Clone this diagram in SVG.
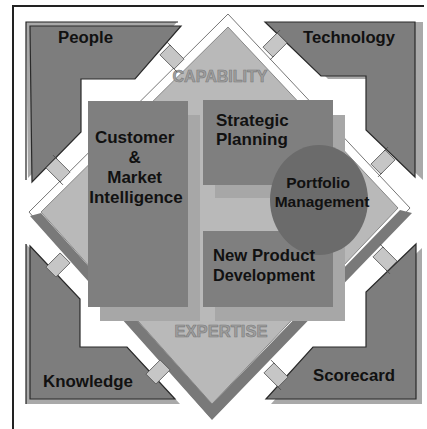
<svg xmlns="http://www.w3.org/2000/svg" width="427" height="429" viewBox="0 0 427 429">
<style>
.lbl{font-family:"Liberation Sans",Arial,sans-serif;font-weight:bold;fill:#111}
.corner{fill:#7d7d7d;stroke:#2a2a2a;stroke-width:1.2}
.cornerbk{fill:#a9a9a9}
.box{fill:#7f7f7f}
.shadow{fill:#a7a7a7}
.plug{fill:#c6c6c6;stroke:#555;stroke-width:0.8}
.emb{font-family:"Liberation Sans",Arial,sans-serif;font-weight:bold;fill:#a0a0a0;stroke:#7a7a7a;stroke-width:0.6}
</style>
<rect width="427" height="429" fill="#ffffff"/>
<!-- frame -->
<path d="M13 429 V6 H424" fill="none" stroke="#222" stroke-width="2"/>

<!-- diamond -->
<g id="diamond">
<polygon points="228,14 410,208 212,419 29,212" fill="#ffffff" stroke="#777" stroke-width="1"/>
<polygon points="228,27 398,208 212,404 41,212" fill="#b9b9b9" stroke="#888" stroke-width="1"/>
<polygon points="30,216 212,420 412,213 400,210 212,404 41,213" fill="#797979"/>
<text class="emb" x="220" y="82" font-size="16" text-anchor="middle" textLength="95" lengthAdjust="spacingAndGlyphs">CAPABILITY</text>
<text class="emb" x="221" y="337" font-size="16" text-anchor="middle" textLength="93" lengthAdjust="spacingAndGlyphs">EXPERTISE</text>
</g>

<!-- corner nodes -->
<g id="people">
<polygon class="cornerbk" points="26,22 177,22 131,75 77,75 77,128 28,178"/>
<polygon class="corner" points="31,27 182,27 136,80 82,80 82,133 33,183" transform="translate(-1,-1)"/>
<path d="M26 180 V22 H178" fill="none" stroke="#222" stroke-width="1.2"/>
<text class="lbl" x="58" y="43" font-size="16" textLength="55" lengthAdjust="spacingAndGlyphs">People</text>
</g>
<g id="technology">
<polygon class="cornerbk" points="272,22 423,22 423,180 373,133 373,79 328,79"/>
<polygon class="corner" points="265,22 415,22 415,177 366,130 366,76 321,76"/>
<text class="lbl" x="303" y="43" font-size="16" textLength="92" lengthAdjust="spacingAndGlyphs">Technology</text>
</g>
<g id="knowledge">
<polygon class="cornerbk" points="26,244 78,299 78,347 127,347 180,404 26,404"/>
<polygon class="corner" points="30,246 80,299 80,347 127,347 175,399 30,399"/>
<path d="M26 244 V404" fill="none" stroke="#222" stroke-width="1.2"/>
<text class="lbl" x="43" y="387" font-size="16" textLength="90" lengthAdjust="spacingAndGlyphs">Knowledge</text>
</g>
<g id="scorecard">
<polygon class="cornerbk" points="422,248 422,404 271,404 318,351 371,351 371,297"/>
<polygon class="corner" points="416,244 416,399 266,399 313,347 366,347 366,292"/>
<text class="lbl" x="313" y="381" font-size="16" textLength="82" lengthAdjust="spacingAndGlyphs">Scorecard</text>
</g>

<!-- connectors (plugs) -->
<g id="connectors">
<g transform="translate(172,57) rotate(45)"><rect class="plug" x="-10" y="-7" width="20" height="14"/><path d="M-14 -7 H-8 M8 7 H14" stroke="#444" stroke-width="0.8"/></g>
<g transform="translate(58,170) rotate(45)"><rect class="plug" x="-10" y="-7" width="20" height="14"/><path d="M-14 -7 H-8 M8 7 H14" stroke="#444" stroke-width="0.8"/></g>
<g transform="translate(275,45) rotate(-45)"><rect class="plug" x="-10" y="-7" width="20" height="14"/><path d="M-14 7 H-8 M8 -7 H14" stroke="#444" stroke-width="0.8"/></g>
<g transform="translate(383,162) rotate(-45)"><rect class="plug" x="-10" y="-7" width="20" height="14"/><path d="M-14 7 H-8 M8 -7 H14" stroke="#444" stroke-width="0.8"/></g>
<g transform="translate(58,265) rotate(-45)"><rect class="plug" x="-10" y="-7" width="20" height="14"/></g>
<g transform="translate(158,372) rotate(-45)"><rect class="plug" x="-10" y="-7" width="20" height="14"/></g>
<g transform="translate(385,259) rotate(45)"><rect class="plug" x="-10" y="-7" width="20" height="14"/><path d="M-14 -7 H-8 M8 7 H14" stroke="#444" stroke-width="0.8"/></g>
<g transform="translate(276,375) rotate(45)"><rect class="plug" x="-10" y="-7" width="20" height="14"/><path d="M-14 -7 H-8 M8 7 H14" stroke="#444" stroke-width="0.8"/></g>
</g>

<!-- inner boxes -->
<g id="customer">
<rect class="shadow" x="100" y="115" width="100" height="206"/>
<rect class="box" x="88" y="101" width="100" height="206"/>
<text class="lbl" font-size="17" text-anchor="middle">
<tspan x="137" y="143">Customer</tspan>
<tspan x="137" y="163">&amp;</tspan>
<tspan x="137" y="183">Market</tspan>
<tspan x="136" y="203">Intelligence</tspan>
</text>
</g>
<g id="strategic">
<rect class="shadow" x="215" y="115" width="130" height="83"/>
<rect class="box" x="203" y="100" width="130" height="85"/>
<text class="lbl" font-size="17"><tspan x="216" y="126">Strategic</tspan><tspan x="216" y="145">Planning</tspan></text>
</g>
<g id="newproduct">
<rect class="shadow" x="215" y="245" width="130" height="76"/>
<rect class="box" x="203" y="231" width="130" height="76"/>
</g>
<g id="portfolio">
<ellipse cx="319" cy="200" rx="49" ry="55" fill="#6b6b6b"/>
<text class="lbl" font-size="15.5" text-anchor="middle"><tspan x="318" y="188">Portfolio</tspan><tspan x="322" y="207">Management</tspan></text>
</g>
<g id="newproduct-label">
<text class="lbl" font-size="17" textLength="102" lengthAdjust="spacingAndGlyphs" x="213" y="261">New Product</text>
<text class="lbl" font-size="17" textLength="102" lengthAdjust="spacingAndGlyphs" x="213" y="281">Development</text>
</g>
</svg>
